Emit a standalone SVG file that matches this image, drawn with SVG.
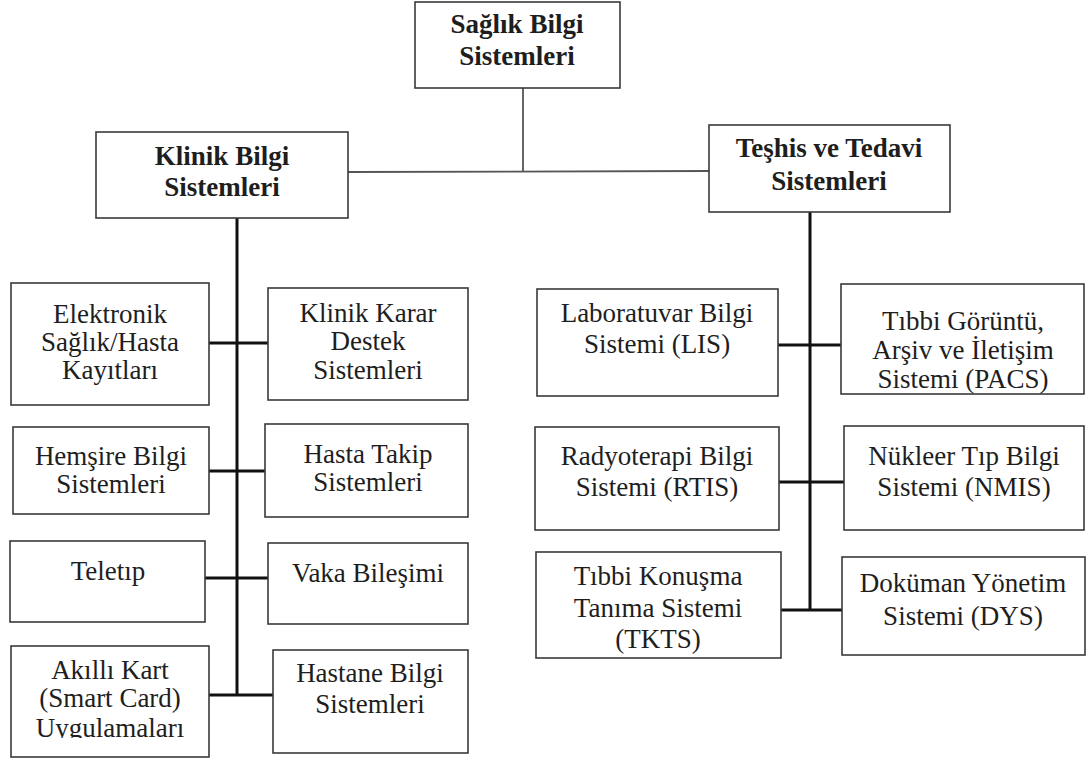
<svg xmlns="http://www.w3.org/2000/svg" width="1092" height="760" viewBox="0 0 1092 760">
  <style>
    .box { fill: #ffffff; stroke: #3a3a3a; stroke-width: 1.6; }
    .t { font-family: "Liberation Serif", "Times New Roman", serif; font-size: 27px; fill: #1e1e1e; text-anchor: middle; }
    .b { font-weight: bold; }
    .thin { stroke: #555555; stroke-width: 1.8; fill: none; }
    .trunk { stroke: #111111; stroke-width: 3; fill: none; }
  </style>
  <defs>
    <!-- the last line of the smart-card box is cut off at its baseline -->
    <clipPath id="clipAkilli"><rect x="11" y="646" width="198" height="92"/></clipPath>
  </defs>
  <rect width="1092" height="760" fill="#ffffff"/>

  <!-- connectors -->
  <g id="connectors">
    <polyline class="thin" points="523,88 523,172"/>
    <line class="thin" x1="348" y1="172" x2="709" y2="171"/>
    <!-- clinical trunk -->
    <line class="trunk" x1="237" y1="218" x2="237" y2="696"/>
    <line class="trunk" x1="209" y1="343" x2="268" y2="343"/>
    <line class="trunk" x1="209" y1="471" x2="265" y2="471"/>
    <line class="trunk" x1="205" y1="578" x2="268" y2="578"/>
    <line class="trunk" x1="209" y1="695" x2="273" y2="695"/>
    <!-- diagnosis trunk -->
    <line class="trunk" x1="810" y1="212" x2="810" y2="611"/>
    <line class="trunk" x1="778" y1="345" x2="841" y2="345"/>
    <line class="trunk" x1="779" y1="482" x2="844" y2="482"/>
    <line class="trunk" x1="781" y1="610" x2="842" y2="610"/>
  </g>

  <g id="root">
    <rect class="box" x="415" y="2" width="205" height="86"/>
    <text class="t b" x="517" y="33">Sağlık Bilgi</text>
    <text class="t b" x="517" y="65">Sistemleri</text>
  </g>

  <g id="klinik">
    <rect class="box" x="96" y="132" width="252" height="86"/>
    <text class="t b" x="222" y="165">Klinik Bilgi</text>
    <text class="t b" x="222" y="196">Sistemleri</text>
  </g>

  <g id="teshis">
    <rect class="box" x="709" y="125" width="241" height="87"/>
    <text class="t b" x="829" y="157">Teşhis ve Tedavi</text>
    <text class="t b" x="829" y="190">Sistemleri</text>
  </g>

  <g id="elektronik">
    <rect class="box" x="11" y="283" width="198" height="122"/>
    <text class="t" x="110" y="323">Elektronik</text>
    <text class="t" x="110" y="351">Sağlık/Hasta</text>
    <text class="t" x="110" y="379">Kayıtları</text>
  </g>

  <g id="klinik-karar">
    <rect class="box" x="268" y="288" width="200" height="112"/>
    <text class="t" x="368" y="322">Klinik Karar</text>
    <text class="t" x="368" y="350">Destek</text>
    <text class="t" x="368" y="379">Sistemleri</text>
  </g>

  <g id="hemsire">
    <rect class="box" x="13" y="427" width="196" height="87"/>
    <text class="t" x="111" y="465">Hemşire Bilgi</text>
    <text class="t" x="111" y="493">Sistemleri</text>
  </g>

  <g id="hasta-takip">
    <rect class="box" x="265" y="424" width="203" height="93"/>
    <text class="t" x="368" y="463">Hasta Takip</text>
    <text class="t" x="368" y="491">Sistemleri</text>
  </g>

  <g id="teletip">
    <rect class="box" x="10" y="541" width="195" height="81"/>
    <text class="t" x="108" y="580">Teletıp</text>
  </g>

  <g id="vaka">
    <rect class="box" x="268" y="543" width="200" height="81"/>
    <text class="t" x="368" y="582">Vaka Bileşimi</text>
  </g>

  <g id="akilli-kart">
    <rect class="box" x="11" y="646" width="198" height="111"/>
    <text class="t" x="110" y="679">Akıllı Kart</text>
    <text class="t" x="110" y="707">(Smart Card)</text>
    <text class="t" x="110" y="737" clip-path="url(#clipAkilli)">Uygulamaları</text>
  </g>

  <g id="hastane">
    <rect class="box" x="273" y="650" width="195" height="103"/>
    <text class="t" x="370" y="682">Hastane Bilgi</text>
    <text class="t" x="370" y="713">Sistemleri</text>
  </g>

  <g id="lis">
    <rect class="box" x="537" y="289" width="241" height="107"/>
    <text class="t" x="657" y="322">Laboratuvar Bilgi</text>
    <text class="t" x="657" y="353">Sistemi (LIS)</text>
  </g>

  <g id="pacs">
    <rect class="box" x="841" y="284" width="243" height="110"/>
    <text class="t" x="963" y="330">Tıbbi Görüntü,</text>
    <text class="t" x="963" y="359">Arşiv ve İletişim</text>
    <text class="t" x="963" y="388">Sistemi (PACS)</text>
  </g>

  <g id="rtis">
    <rect class="box" x="535" y="427" width="244" height="103"/>
    <text class="t" x="657" y="465">Radyoterapi Bilgi</text>
    <text class="t" x="657" y="496">Sistemi (RTIS)</text>
  </g>

  <g id="nmis">
    <rect class="box" x="844" y="426" width="240" height="104"/>
    <text class="t" x="964" y="465">Nükleer Tıp Bilgi</text>
    <text class="t" x="964" y="496">Sistemi (NMIS)</text>
  </g>

  <g id="tkts">
    <rect class="box" x="536" y="552" width="245" height="106"/>
    <text class="t" x="658" y="585">Tıbbi Konuşma</text>
    <text class="t" x="658" y="617">Tanıma Sistemi</text>
    <text class="t" x="658" y="648">(TKTS)</text>
  </g>

  <g id="dys">
    <rect class="box" x="842" y="557" width="243" height="98"/>
    <text class="t" x="963" y="592">Doküman Yönetim</text>
    <text class="t" x="963" y="625">Sistemi (DYS)</text>
  </g>
</svg>
